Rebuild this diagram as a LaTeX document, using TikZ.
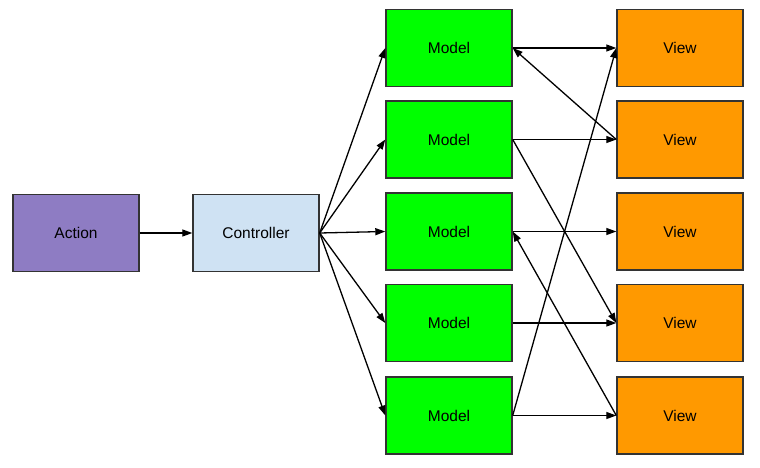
\documentclass[tikz,border=0pt]{standalone}
\usepackage{fontspec}
\setmainfont{Liberation Sans}
\usetikzlibrary{arrows.meta}
\definecolor{actc}{HTML}{8E7CC3}
\definecolor{ctrlc}{HTML}{CFE2F3}
\definecolor{modc}{HTML}{00FF00}
\definecolor{viewc}{HTML}{FF9900}
\definecolor{edgec}{HTML}{333333}
\begin{document}
\begin{tikzpicture}[x=1pt,y=1pt,
  box/.style={draw=edgec,line width=1.4pt,minimum width=126pt,minimum height=77pt,inner sep=0pt,font=\fontsize{15.5}{18}\selectfont},
  conn/.style={line width=1.3pt,-{Triangle[length=10pt,width=7pt]}}]
\useasboundingbox (0,0) rectangle (760,467);
\node[box,fill=actc] (act) at (76,234) {Action};
\node[box,fill=ctrlc] (ctrl) at (256,234) {Controller};
\foreach \i/\y in {1/48,2/139.5,3/231.5,4/323,5/415.5}{
  \node[box,fill=modc] (m\i) at (449,467-\y) {Model};
  \node[box,fill=viewc] (v\i) at (680,467-\y) {View};
}
\draw[conn] (act.east) -- (ctrl.west);
\foreach \i in {1,...,5}{
  \draw[conn] (ctrl.east) -- (m\i.west);
  \draw[conn] (m\i.east) -- (v\i.west);
}
\draw[conn] (v2.west) -- (m1.east);
\draw[conn] (m2.east) -- (v4.west);
\draw[conn] (v5.west) -- (m3.east);
\draw[conn] (m5.east) -- (v1.west);
\end{tikzpicture}
\end{document}
